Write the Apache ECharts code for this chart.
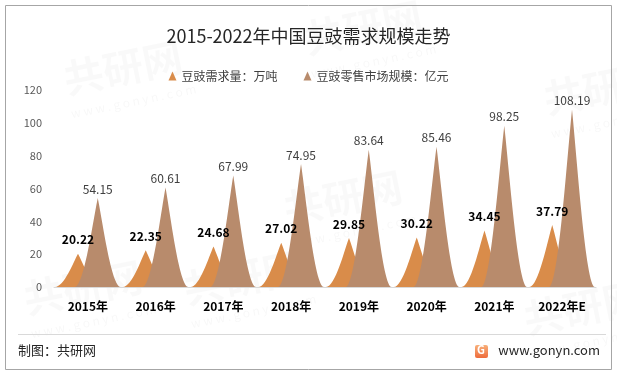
<!DOCTYPE html>
<html>
<head>
<meta charset="utf-8">
<script src="https://cdn.jsdelivr.net/npm/echarts@6/dist/echarts.min.js"></script>
<style>
html, body { margin: 0; padding: 0; background: #fff; }
#main { width: 617px; height: 376px; }
</style>
</head>
<body>
<div id="main"></div>
<script>
// 年份
var years = ["2015年", "2016年", "2017年", "2018年", "2019年", "2020年", "2021年", "2022年E"];
// 豆豉需求量：万吨
var demand = [20.22, 22.35, 24.68, 27.02, 29.85, 30.22, 34.45, 37.79];
// 豆豉零售市场规模：亿元
var market = [54.15, 60.61, 67.99, 74.95, 83.64, 85.46, 98.25, 108.19];

var font = "Noto Sans CJK SC";
var peak = "path://M0,10 L10,10 C8,10 6,2.5 5,0 C4,2.5 2,10 0,10 z";

var myChart = echarts.init(document.getElementById("main"));

// 水印
var marks = [];
[[60, 60], [300, 20], [540, 80], [280, 190], [20, 280], [520, 300], [180, 270]].forEach(function (p) {
    marks.push({
        type: "text", x: p[0], y: p[1], rotation: 0.2, silent: true, z: -1,
        style: { text: "共研网", font: "bold 40px " + font, fill: "rgba(0,0,0,0.022)" }
    });
    marks.push({
        type: "text", x: p[0] + 10, y: p[1] + 48, rotation: 0.2, silent: true, z: -1,
        style: { text: "w w w . g o n y n . c o m", font: "12px " + font, fill: "rgba(0,0,0,0.03)" }
    });
});

var option = {
    animation: false,
    textStyle: { fontFamily: font },
    title: {
        text: "2015-2022年中国豆豉需求规模走势",
        left: "center",
        top: 22,
        textStyle: { fontSize: 18, fontWeight: "normal", color: "#262626", fontFamily: font }
    },
    legend: {
        top: 65,
        left: "center",
        itemWidth: 8,
        itemHeight: 9,
        itemGap: 26,
        icon: "triangle",
        textStyle: { fontSize: 12, color: "#404040" },
        data: ["豆豉需求量：万吨", "豆豉零售市场规模：亿元"]
    },
    grid: { left: 54, right: 21, top: 90, bottom: 89 },
    xAxis: {
        type: "category",
        data: years,
        axisTick: { show: false },
        axisLine: { lineStyle: { color: "#d9d9d9" } },
        axisLabel: { color: "#000", fontWeight: "bold", fontSize: 12, margin: 13 }
    },
    yAxis: {
        type: "value",
        min: 0,
        max: 120,
        interval: 20,
        splitLine: { show: false },
        axisLine: { show: false },
        axisTick: { show: false },
        axisLabel: { color: "#595959", fontSize: 11, margin: 12 }
    },
    series: [
        {
            name: "豆豉需求量：万吨",
            type: "pictorialBar",
            symbol: peak,
            barWidth: 46,
            barGap: "-57%",
            data: demand,
            itemStyle: { color: "#d98c4a" },
            label: {
                show: true,
                position: "top",
                distance: 8,
                color: "#000",
                fontWeight: "bold",
                fontSize: 12
            }
        },
        {
            name: "豆豉零售市场规模：亿元",
            type: "pictorialBar",
            symbol: peak,
            barWidth: 46,
            barGap: "-57%",
            data: market,
            itemStyle: { color: "#b88b6c" },
            label: {
                show: true,
                position: "top",
                distance: 3,
                color: "#404040",
                fontSize: 12
            }
        }
    ],
    graphic: marks.concat([
        {
            type: "rect", silent: true,
            shape: { x: 5.5, y: 5.5, width: 606, height: 364 },
            style: { fill: "none", stroke: "#a6a6a6", lineWidth: 1 }
        },
        {
            type: "line", silent: true,
            shape: { x1: 18, y1: 334.5, x2: 606, y2: 334.5 },
            style: { stroke: "#d9d9d9", lineWidth: 1 }
        },
        {
            type: "text", left: 18, top: 344,
            style: { text: "制图：共研网", font: "13px " + font, fill: "#262626" }
        },
        {
            type: "rect", silent: true,
            shape: { x: 475, y: 345, width: 13, height: 13, r: 2 },
            style: {
                fill: new echarts.graphic.LinearGradient(0, 0, 0, 1, [
                    { offset: 0, color: "#f8b07a" },
                    { offset: 1, color: "#ee6b3b" }
                ])
            }
        },
        {
            type: "text", x: 477, y: 344,
            style: { text: "G", font: "bold 11px " + font, fill: "#fff" }
        },
        {
            type: "text", right: 17, top: 344,
            style: { text: "www.gonyn.com", font: "13px " + font, fill: "#262626" }
        }
    ])
};

myChart.setOption(option);
</script>
</body>
</html>
